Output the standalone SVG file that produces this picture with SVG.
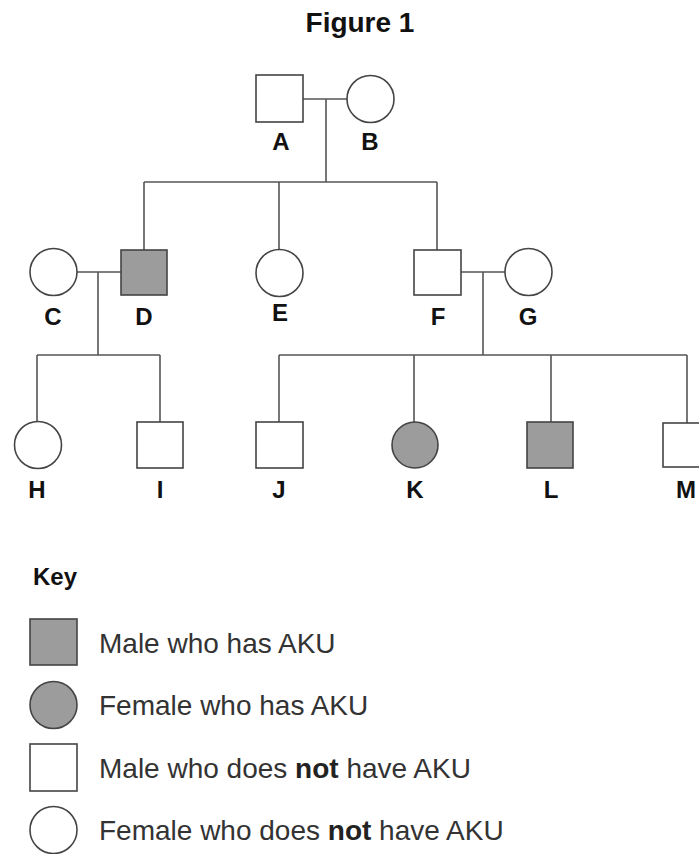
<svg xmlns="http://www.w3.org/2000/svg" width="699" height="854" viewBox="0 0 699 854">
<style>
.ln{stroke:#555;stroke-width:1.6;fill:none}
.nd{stroke:#444;stroke-width:1.6;fill:#fff}
.aff{fill:#9c9c9c}
.lb{font-family:"Liberation Sans",Arial,sans-serif;font-weight:bold;font-size:24px;fill:#111;text-anchor:middle}
.tt{font-family:"Liberation Sans",Arial,sans-serif;font-weight:bold;font-size:28px;fill:#111;text-anchor:middle}
.key{font-family:"Liberation Sans",Arial,sans-serif;font-weight:bold;font-size:24px;fill:#111}
.kt{font-family:"Liberation Sans",Arial,sans-serif;font-size:28px;fill:#333}
.kt tspan.b{font-weight:bold;fill:#222}
</style>
<rect width="699" height="854" fill="#fff"/>
<text class="tt" x="360" y="32">Figure 1</text>
<g id="connectors">
<path class="ln" d="M303 99H347M326 99V182M144 182H437M144 182V250M279 182V250M437 182V250"/>
<path class="ln" d="M77 272H121M98 272V355M37 355H160M37 355V422M160 355V422"/>
<path class="ln" d="M461 272H505M483 272V355M279 355H687M279 355V422M414 355V422M551 355V422M687 355V423"/>
</g>
<g id="A"><rect class="nd" x="256" y="75" width="47" height="47"/><text class="lb" x="281" y="150">A</text></g>
<g id="B"><circle class="nd" cx="370.5" cy="99" r="23.5"/><text class="lb" x="370" y="150">B</text></g>
<g id="C"><circle class="nd" cx="53.5" cy="272" r="23.5"/><text class="lb" x="53" y="325">C</text></g>
<g id="D"><rect class="nd aff" x="121" y="250" width="46" height="45"/><text class="lb" x="144" y="325">D</text></g>
<g id="E"><circle class="nd" cx="279.5" cy="273" r="23.5"/><text class="lb" x="280" y="321">E</text></g>
<g id="F"><rect class="nd" x="414" y="250" width="47" height="45"/><text class="lb" x="438" y="325">F</text></g>
<g id="G"><circle class="nd" cx="528.5" cy="272" r="23.5"/><text class="lb" x="528" y="325">G</text></g>
<g id="H"><circle class="nd" cx="38" cy="445" r="23.5"/><text class="lb" x="37" y="498">H</text></g>
<g id="I"><rect class="nd" x="137" y="422" width="46" height="46"/><text class="lb" x="160" y="498">I</text></g>
<g id="J"><rect class="nd" x="256" y="422" width="47" height="46"/><text class="lb" x="279" y="498">J</text></g>
<g id="K"><circle class="nd aff" cx="415" cy="445" r="23"/><text class="lb" x="415" y="498">K</text></g>
<g id="L"><rect class="nd aff" x="527" y="422" width="46" height="46"/><text class="lb" x="551" y="498">L</text></g>
<g id="M"><rect class="nd" x="663" y="423" width="47" height="44"/><text class="lb" x="686" y="498">M</text></g>
<g id="key">
<text class="key" x="33" y="585">Key</text>
<rect class="nd aff" x="30" y="619" width="47" height="46"/>
<text class="kt" x="99" y="653">Male who has AKU</text>
<circle class="nd aff" cx="53.5" cy="705" r="23.5"/>
<text class="kt" x="99" y="715">Female who has AKU</text>
<rect class="nd" x="30" y="744" width="47" height="47"/>
<text class="kt" x="99" y="778">Male who does <tspan class="b">not</tspan> have AKU</text>
<circle class="nd" cx="53.5" cy="830" r="23.5"/>
<text class="kt" x="99" y="840">Female who does <tspan class="b">not</tspan> have AKU</text>
</g>
</svg>
